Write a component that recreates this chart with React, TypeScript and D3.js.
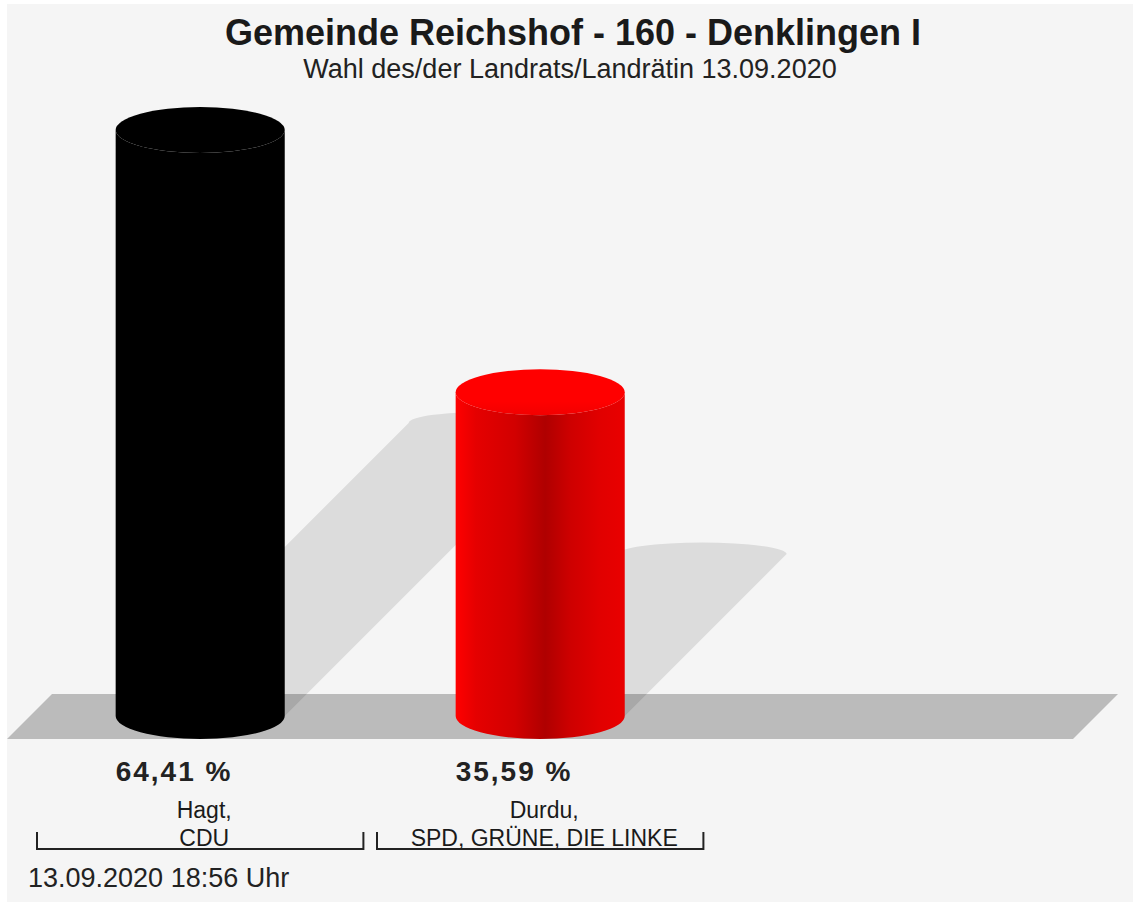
import { scaleBand, scaleLinear, color, formatLocale } from "d3";

const candidates = ["Hagt,", "Durdu,"];
const parties = ["CDU", "SPD, GRÜNE, DIE LINKE"];
const shares = [64.41, 35.59];
const barColors = ["#000000", "#ff0000"];

const title = "Gemeinde Reichshof - 160 - Denklingen I";
const subtitle = "Wahl des/der Landrats/Landrätin 13.09.2020";
const footer = "13.09.2020 18:56 Uhr";

const W = 1133;
const H = 906;
const font = "'Liberation Sans', Arial, Helvetica, sans-serif";

// deutsche Zahlen: 64,41
const de = formatLocale({
  decimal: ",",
  thousands: ".",
  grouping: [3],
  currency: ["", " €"],
});
const pct = de.format(".2f");

const base = 716; // Mitte der unteren Ellipse
const ry = 23;

const App = () => {
  const x = scaleBand<number>()
    .domain(shares.map((_, i) => i))
    .range([37, 703.4])
    .paddingInner(0.04);
  const y = scaleLinear().domain([0, Math.max(...shares)]).range([base, 130]);
  const barW = x.bandwidth() * 0.518;

  // Boden als Parallelogramm
  const floorTop = base - 22;
  const floorBottom = base + 23;
  const floor = `M7,${floorBottom} L52,${floorTop} L1118,${floorTop} L1073,${floorBottom} Z`;

  return (
    <svg
      width={W}
      height={H}
      style={{ position: "absolute", left: 0, top: 0, fontFamily: font }}
    >
      <defs>
        {barColors.map((c, i) => {
          const stops: [number, number][] = [
            [0, 0],
            [0.12, 0.3],
            [0.35, 0.55],
            [0.53, 1.05],
            [0.68, 0.6],
            [0.85, 0.35],
            [1, 0.25],
          ];
          return (
            <linearGradient key={i} id={`side${i}`} x1="0" x2="1" y1="0" y2="0">
              {stops.map(([o, k]) => (
                <stop key={o} offset={o} stopColor={color(c)!.darker(k).formatHex()} />
              ))}
            </linearGradient>
          );
        })}
        {barColors.map((c, i) => (
          <linearGradient key={i} id={`top${i}`} x1="0" x2="0" y1="0" y2="1">
            <stop offset="0" stopColor={c} />
            <stop offset="0.7" stopColor={c} />
            <stop offset="1" stopColor={color(c)!.darker(0.15).formatHex()} />
          </linearGradient>
        ))}
      </defs>
      <rect x={0} y={0} width={W} height={H} fill="#ffffff" />
      <rect x={7} y={4} width={W - 7} height={898} fill="#f5f5f5" />

      <text x={573} y={45} textAnchor="middle" fontSize={36} fontWeight="bold" fill="#1a1a1a">
        {title}
      </text>
      <text x={570} y={78} textAnchor="middle" fontSize={27} fill="#222">
        {subtitle}
      </text>

      <path d={floor} fill="#bbbbbb" />

      {/* Schatten */}
      {shares.map((v, i) => {
        const x0 = x(i)! + x.bandwidth() / 2 - barW / 2;
        const x1 = x0 + barW;
        const d = (base - y(v)) / 2;
        const p = `M${x0},${base} L${x0 + d},${base - d} A${barW / 2},${ry / 2} 0 0 1 ${x1 + d},${base - d} L${x1},${base} Z`;
        return <path key={i} d={p} fill="#000" fillOpacity={0.1} />;
      })}

      {/* Zylinder */}
      {shares.map((v, i) => {
        const x0 = x(i)! + x.bandwidth() / 2 - barW / 2;
        const x1 = x0 + barW;
        const top = y(v);
        const rx = barW / 2;
        const side = `M${x0},${top} L${x0},${base} A${rx},${ry} 0 0 0 ${x1},${base} L${x1},${top} A${rx},${ry} 0 0 1 ${x0},${top} Z`;
        return (
          <g key={i}>
            <path d={side} fill={`url(#side${i})`} />
            <ellipse cx={x0 + rx} cy={top} rx={rx} ry={ry} fill={`url(#top${i})`} />
          </g>
        );
      })}

      {/* Prozentwerte */}
      {shares.map((v, i) => (
        <text
          key={i}
          x={x(i)! + x.bandwidth() / 2 - barW / 2}
          y={781}
          fontSize={28}
          fontWeight="bold"
          letterSpacing={2}
          fill="#222"
        >
          {`${pct(v)} %`}
        </text>
      ))}

      {/* Kandidaten + Klammern */}
      {shares.map((_, i) => {
        const b0 = x(i)!;
        const b1 = b0 + x.bandwidth();
        const cx = b0 + x.bandwidth() / 2 + 4;
        return (
          <g key={i}>
            <text x={cx} y={818} textAnchor="middle" fontSize={23} fill="#1a1a1a">
              {candidates[i]}
            </text>
            <text x={cx} y={846} textAnchor="middle" fontSize={23} fill="#1a1a1a">
              {parties[i]}
            </text>
            <path
              d={`M${b0},832 L${b0},849 L${b1},849 L${b1},832`}
              fill="none"
              stroke="#222"
              strokeWidth={2}
            />
          </g>
        );
      })}

      <text x={28} y={887} fontSize={27} fill="#222">
        {footer}
      </text>
    </svg>
  );
};

export default App;
